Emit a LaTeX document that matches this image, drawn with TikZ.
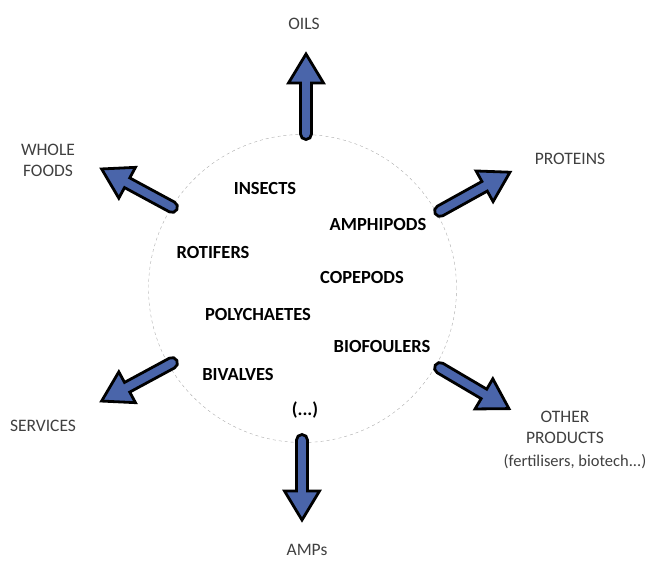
\documentclass[tikz,border=0pt]{standalone}
\usepackage{fontspec}
\setmainfont{Carlito}
\usetikzlibrary{calc}
\usetikzlibrary{positioning}
\definecolor{arrowblue}{RGB}{74,101,170}
\definecolor{labelgray}{RGB}{64,64,64}

\begin{document}
\begin{tikzpicture}[
        x=1pt, y=-1pt,
        pool/.style={circle, draw=gray!65, dashed, thin, minimum size=308pt, inner sep=0pt},
        group/.style={font=\fontsize{18.5}{20}\selectfont\bfseries, inner sep=0pt},
        product/.style={font=\fontsize{17.5}{21}\selectfont, text=labelgray, align=center, inner sep=0pt},
        block arrow/.style={draw=black, line width=2.8pt, fill=arrowblue, line join=miter},
        outarrow/.pic={
            \draw[block arrow] (0,-5.5) -- (51,-5.5) -- (51,-17.5) -- (80,0)
                -- (51,17.5) -- (51,5.5) -- (0,5.5) arc (90:270:5.5) -- cycle;
        }
        ]
        \useasboundingbox (0,0) rectangle (648,563);

        % pool of organisms
        \node[pool] (pool) at (302.5,288.5) {};

        \node[group] (insects) at (265,188) {INSECTS};
        \node[group] (amphipods) at (378,224) {AMPHIPODS};
        \node[group] (rotifers) at (213,252) {ROTIFERS};
        \node[group] (copepods) at (362,277) {COPEPODS};
        \node[group] (polychaetes) at (258,314) {POLYCHAETES};
        \node[group] (biofoulers) at (382,346) {BIOFOULERS};
        \node[group] (bivalves) at (238,374) {BIVALVES};
        \node[group] (more) at (305,410) {(...)};

        % products
        \node[product] (oils) at (304,24) {OILS};
        \node[product] (proteins) at (570,159) {PROTEINS};
        \node[product] (wholefoods) at (48,160) {WHOLE\\FOODS};
        \node[product] (services) at (43,426) {SERVICES};
        \node[product] (other) at (565,427) {OTHER\\PRODUCTS};
        \node[product, font=\fontsize{16.5}{20}\selectfont] (otherex) at (575,462) {(fertilisers, biotech...)};
        \node[product] (amps) at (307,550) {AMPs};

        % arrows out of the pool
        \coordinate (oils tail) at (306,134);
        \coordinate (proteins tail) at (440,211);
        \coordinate (other tail) at (440,368);
        \coordinate (wholefoods tail) at (172,207);
        \coordinate (services tail) at (172,363);
        \coordinate (amps tail) at (302,440);

        \pic[rotate=90] at (oils tail) {outarrow};
        \pic[rotate=29] at (proteins tail) {outarrow};
        \pic[rotate=-30.5] at (other tail) {outarrow};
        \pic[rotate=151.6] at (wholefoods tail) {outarrow};
        \pic[rotate=208.4] at (services tail) {outarrow};
        \pic[rotate=270] at (amps tail) {outarrow};
    \end{tikzpicture}
\end{document}
